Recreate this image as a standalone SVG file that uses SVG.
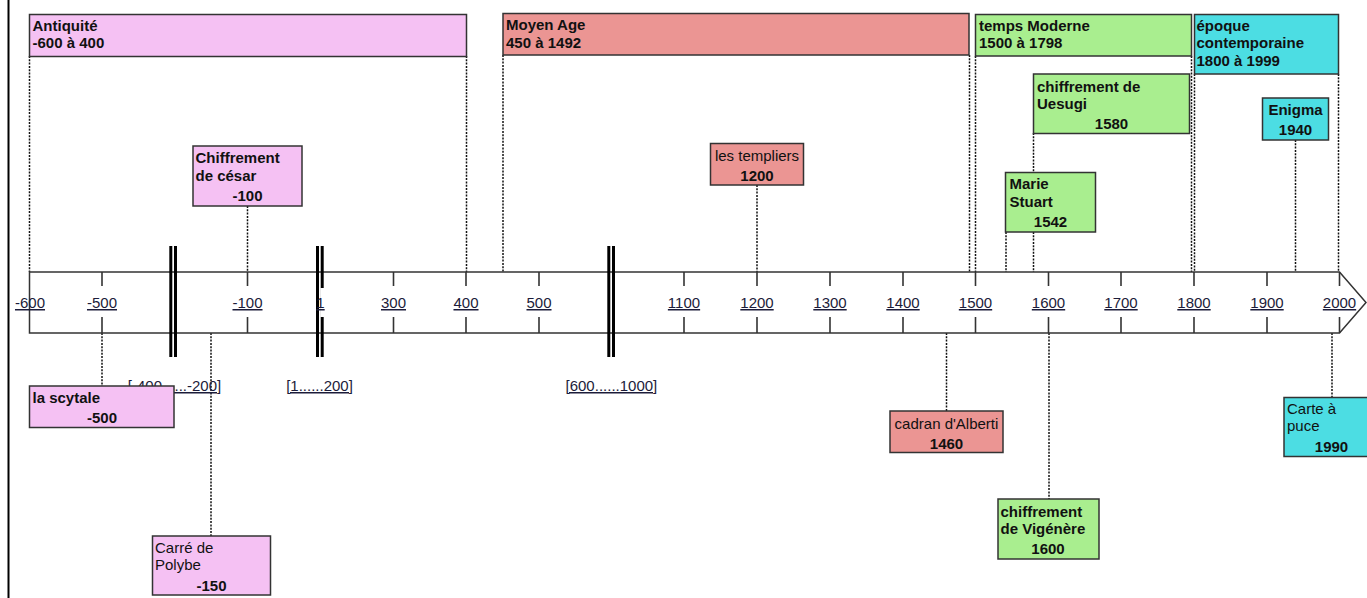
<svg xmlns="http://www.w3.org/2000/svg" width="1367" height="598" viewBox="0 0 1367 598">
<style>
.box{stroke:#333;stroke-width:1.5}
.pink{fill:#F5C1F3}.red{fill:#EB9593}.green{fill:#A9EE8F}.cyan{fill:#4CDDE3}
.t{font-family:"Liberation Sans",Arial,sans-serif;font-size:15px;fill:#111}
.b{font-weight:bold}
.c{text-anchor:middle}
.ax{font-family:"Liberation Sans",Arial,sans-serif;font-size:15px;fill:#1c1c3a;text-anchor:middle;text-decoration:underline}
.dot{stroke:#111;stroke-width:1.5;stroke-dasharray:2 1.3;fill:none}
.tick{stroke:#333;stroke-width:1.6}
.brk{stroke:#000;stroke-width:3}
</style>
<rect x="0" y="0" width="1367" height="598" fill="#fff"/>
<line x1="8.5" y1="0" x2="8.5" y2="598" stroke="#000" stroke-width="2"/>

<g id="connectors">
<line class="dot" x1="29.5" y1="56" x2="29.5" y2="272"/>
<line class="dot" x1="466.5" y1="56" x2="466.5" y2="272"/>
<line class="dot" x1="503" y1="55" x2="503" y2="272"/>
<line class="dot" x1="969.5" y1="55" x2="969.5" y2="272"/>
<line class="dot" x1="975.5" y1="56" x2="975.5" y2="272"/>
<line class="dot" x1="1191.5" y1="56" x2="1191.5" y2="272"/>
<line class="dot" x1="1194.5" y1="74" x2="1194.5" y2="272"/>
<line class="dot" x1="1338.5" y1="74" x2="1338.5" y2="272"/>
<line class="dot" x1="247.5" y1="206" x2="247.5" y2="272"/>
<line class="dot" x1="757" y1="185" x2="757" y2="272"/>
<line class="dot" x1="1033.5" y1="133" x2="1033.5" y2="272"/>
<line class="dot" x1="1006" y1="232" x2="1006" y2="272"/>
<line class="dot" x1="1295.5" y1="140" x2="1295.5" y2="272"/>
<line class="dot" x1="102" y1="333" x2="102" y2="386"/>
<line class="dot" x1="211" y1="333" x2="211" y2="536"/>
<line class="dot" x1="946.5" y1="333" x2="946.5" y2="411"/>
<line class="dot" x1="1049" y1="333" x2="1049" y2="499"/>
<line class="dot" x1="1332" y1="333" x2="1332" y2="397"/>
</g>

<g id="axis">
<polygon points="29.5,272 1339.5,272 1366,302.5 1339.5,333 29.5,333" fill="#fff" stroke="#333" stroke-width="1.5"/>
<g class="tick">
<line x1="102" y1="272" x2="102" y2="286"/><line x1="102" y1="317" x2="102" y2="333"/>
<line x1="247.5" y1="272" x2="247.5" y2="286"/><line x1="247.5" y1="317" x2="247.5" y2="333"/>
<line x1="393.5" y1="272" x2="393.5" y2="286"/><line x1="393.5" y1="317" x2="393.5" y2="333"/>
<line x1="466" y1="272" x2="466" y2="286"/><line x1="466" y1="317" x2="466" y2="333"/>
<line x1="539" y1="272" x2="539" y2="286"/><line x1="539" y1="317" x2="539" y2="333"/>
<line x1="684" y1="272" x2="684" y2="286"/><line x1="684" y1="317" x2="684" y2="333"/>
<line x1="757" y1="272" x2="757" y2="286"/><line x1="757" y1="317" x2="757" y2="333"/>
<line x1="830" y1="272" x2="830" y2="286"/><line x1="830" y1="317" x2="830" y2="333"/>
<line x1="903" y1="272" x2="903" y2="286"/><line x1="903" y1="317" x2="903" y2="333"/>
<line x1="975.5" y1="272" x2="975.5" y2="286"/><line x1="975.5" y1="317" x2="975.5" y2="333"/>
<line x1="1048.5" y1="272" x2="1048.5" y2="286"/><line x1="1048.5" y1="317" x2="1048.5" y2="333"/>
<line x1="1121" y1="272" x2="1121" y2="286"/><line x1="1121" y1="317" x2="1121" y2="333"/>
<line x1="1194" y1="272" x2="1194" y2="286"/><line x1="1194" y1="317" x2="1194" y2="333"/>
<line x1="1267" y1="272" x2="1267" y2="286"/><line x1="1267" y1="317" x2="1267" y2="333"/>
<line x1="1339.5" y1="272" x2="1339.5" y2="286"/><line x1="1339.5" y1="317" x2="1339.5" y2="333"/>
</g>
<g class="brk">
<line x1="170.8" y1="246" x2="170.8" y2="357"/><line x1="175.5" y1="246" x2="175.5" y2="357"/>
<line x1="317.5" y1="246" x2="317.5" y2="357"/><line x1="322.2" y1="246" x2="322.2" y2="357"/>
<line x1="608.8" y1="246" x2="608.8" y2="357"/><line x1="613.5" y1="246" x2="613.5" y2="357"/>
</g>
<rect x="320.3" y="288" width="4" height="29" fill="#fff"/>
<text class="ax" x="30" y="308">-600</text>
<text class="ax" x="102" y="308">-500</text>
<text class="ax" x="247.5" y="308">-100</text>
<text class="ax" x="320.5" y="308">1</text>
<text class="ax" x="393.5" y="308">300</text>
<text class="ax" x="466" y="308">400</text>
<text class="ax" x="539" y="308">500</text>
<text class="ax" x="684" y="308">1100</text>
<text class="ax" x="757" y="308">1200</text>
<text class="ax" x="830" y="308">1300</text>
<text class="ax" x="903" y="308">1400</text>
<text class="ax" x="975.5" y="308">1500</text>
<text class="ax" x="1048.5" y="308">1600</text>
<text class="ax" x="1121" y="308">1700</text>
<text class="ax" x="1194" y="308">1800</text>
<text class="ax" x="1267" y="308">1900</text>
<text class="ax" x="1339.5" y="308">2000</text>
<text class="ax" x="174.5" y="391">[-400......-200]</text>
<text class="ax" x="319.5" y="391">[1......200]</text>
<text class="ax" x="611.4" y="391">[600......1000]</text>
</g>

<g id="antiquite">
<rect class="box pink" x="29.5" y="14.5" width="437" height="42"/>
<text class="t b" x="32.5" y="30.5">Antiquité</text>
<text class="t b" x="32.5" y="48">-600 à 400</text>
</g>
<g id="moyen-age">
<rect class="box red" x="503" y="13.5" width="466" height="41.5"/>
<text class="t b" x="506" y="30">Moyen Age</text>
<text class="t b" x="506" y="47.5">450 à 1492</text>
</g>
<g id="temps-moderne">
<rect class="box green" x="975.5" y="14.5" width="216" height="41.5"/>
<text class="t b" x="979" y="30.5">temps Moderne</text>
<text class="t b" x="979" y="48">1500 à 1798</text>
</g>
<g id="epoque-contemporaine">
<rect class="box cyan" x="1194.5" y="14.5" width="144" height="59.5"/>
<text class="t b" x="1196.5" y="30.5">époque</text>
<text class="t b" x="1196.5" y="48">contemporaine</text>
<text class="t b" x="1196.5" y="65.5">1800 à 1999</text>
</g>

<g id="cesar">
<rect class="box pink" x="193" y="146" width="109" height="60"/>
<text class="t b" x="195.5" y="163">Chiffrement</text>
<text class="t b" x="195.5" y="180.5">de césar</text>
<text class="t b c" x="247.5" y="200.5">-100</text>
</g>
<g id="templiers">
<rect class="box red" x="710.5" y="143.5" width="93" height="41.5"/>
<text class="t c" x="757" y="160.5">les templiers</text>
<text class="t b c" x="757" y="181">1200</text>
</g>
<g id="uesugi">
<rect class="box green" x="1033.5" y="74" width="156" height="59.5"/>
<text class="t b" x="1037" y="91.5">chiffrement de</text>
<text class="t b" x="1037" y="108.5">Uesugi</text>
<text class="t b c" x="1111.5" y="128.5">1580</text>
</g>
<g id="marie-stuart">
<rect class="box green" x="1005.5" y="172.5" width="90" height="59.5"/>
<text class="t b" x="1009.5" y="188.5">Marie</text>
<text class="t b" x="1009.5" y="206.5">Stuart</text>
<text class="t b c" x="1050.5" y="226.5">1542</text>
</g>
<g id="enigma">
<rect class="box cyan" x="1262.5" y="98" width="66" height="42"/>
<text class="t b c" x="1295.5" y="115">Enigma</text>
<text class="t b c" x="1295.5" y="135">1940</text>
</g>

<g id="scytale">
<rect class="box pink" x="29.5" y="386" width="144.5" height="41.5"/>
<text class="t b" x="32.5" y="402.5">la scytale</text>
<text class="t b c" x="102" y="422.5">-500</text>
</g>
<g id="polybe">
<rect class="box pink" x="152.5" y="536" width="118" height="59"/>
<text class="t" x="155" y="552.5">Carré de</text>
<text class="t" x="155" y="570">Polybe</text>
<text class="t b c" x="211.5" y="590.5">-150</text>
</g>
<g id="alberti">
<rect class="box red" x="890" y="411" width="113" height="41.5"/>
<text class="t c" x="946.5" y="428.5">cadran d'Alberti</text>
<text class="t b c" x="946.5" y="448.5">1460</text>
</g>
<g id="vigenere">
<rect class="box green" x="998" y="499" width="101" height="60"/>
<text class="t b" x="1000.5" y="516.5">chiffrement</text>
<text class="t b" x="1000.5" y="533.5">de Vigénère</text>
<text class="t b c" x="1048" y="554">1600</text>
</g>
<g id="carte-a-puce">
<rect class="box cyan" x="1284" y="397.5" width="95" height="59"/>
<text class="t" x="1287" y="413.5">Carte à</text>
<text class="t" x="1287" y="431">puce</text>
<text class="t b c" x="1331.5" y="451.5">1990</text>
</g>
</svg>
